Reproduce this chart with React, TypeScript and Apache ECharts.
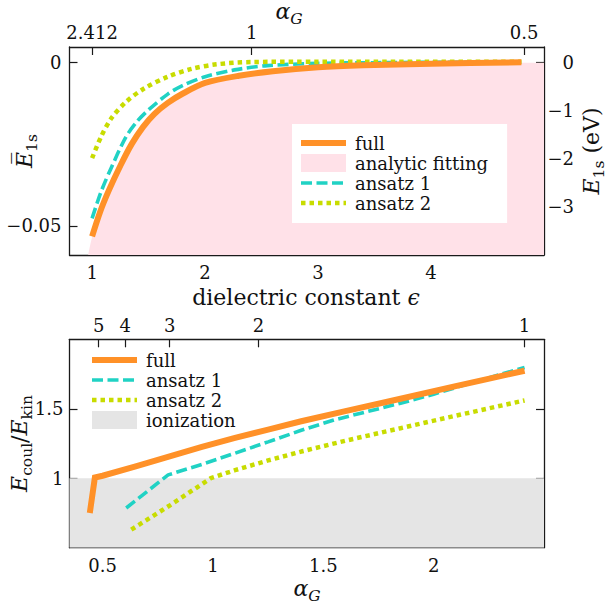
import React, { useEffect, useRef } from 'react';
import * as echarts from 'echarts';

const FONT = '"DejaVu Serif", serif';
const ALPHA0 = 2.412; // alpha_G at epsilon = 1
const EV_PER_UNIT = 68.07; // E_1s (eV) per unit of normalized E_1s

// ---------- top panel: dielectric constant vs normalized E_1s ----------
const epsFull = [1.0, 1.07, 1.15, 1.25, 1.35, 1.45, 1.55, 1.67, 1.8, 2.0, 2.3, 2.6, 3.0, 3.4, 4.0, 4.8];
const eFull = [-0.0532, -0.0458, -0.039, -0.0316, -0.025, -0.0198, -0.0158, -0.0124, -0.0096, -0.0063, -0.0041, -0.0027, -0.0015, -0.0009, -0.0004, 0];
const epsFit = [0.95, 1.0, 1.07, 1.15, 1.25, 1.35, 1.45, 1.55, 1.67, 1.8, 2.0, 2.3, 2.6, 3.0, 3.5, 4.0, 4.5, 5.0];
const eFit = [-0.0615, -0.0534, -0.0458, -0.0389, -0.0315, -0.0249, -0.0197, -0.0157, -0.0123, -0.0095, -0.0062, -0.004, -0.0026, -0.0014, -0.0007, -0.0003, -0.0001, -0.0001];
const epsAnsatz1 = [1.0, 1.08, 1.17, 1.3, 1.4, 1.5, 1.67, 1.8, 2.0, 2.26, 2.55, 3.0, 3.5, 4.0, 4.8];
const eAnsatz1 = [-0.0477, -0.0395, -0.0322, -0.0228, -0.018, -0.0145, -0.0097, -0.0071, -0.0044, -0.0023, -0.001, -0.0003, -0.0001, 0, 0];
const epsAnsatz2 = [1.0, 1.08, 1.17, 1.3, 1.46, 1.67, 1.88, 2.1, 2.4, 3.0, 4.0, 4.8];
const eAnsatz2 = [-0.0293, -0.0227, -0.0171, -0.0121, -0.008, -0.0044, -0.002, -0.0006, 0.0001, 0.0002, 0.0002, 0.0002];

const epsTicks = [1, 2, 3, 4];
const eBarTicks = [-0.05, 0];
const eVTicks = [-3, -2, -1, 0];
const alphaTopTicks = [2.412, 1, 0.5];
const alphaTopLabels = ['2.412', '1', '0.5'];

// ---------- bottom panel: alpha_G vs E_coul/E_kin ----------
const alphaFull = [0.442, 0.465, 0.5, 0.65, 0.8, 0.95, 1.1, 1.25, 1.4, 1.6, 1.85, 2.1, 2.412];
const ratioFull = [0.75, 1.005, 1.018, 1.085, 1.155, 1.225, 1.29, 1.35, 1.41, 1.483, 1.572, 1.663, 1.774];
const alphaAnsatz1 = [0.607, 0.797, 0.95, 1.1, 1.25, 1.4, 1.55, 1.7, 1.85, 2.0, 2.2, 2.412];
const ratioAnsatz1 = [0.786, 1.024, 1.1, 1.18, 1.262, 1.345, 1.42, 1.48, 1.54, 1.605, 1.7, 1.797];
const alphaAnsatz2 = [0.63, 0.8, 0.99, 1.1, 1.25, 1.4, 1.6, 1.85, 2.1, 2.412];
const ratioAnsatz2 = [0.63, 0.8, 1.0, 1.058, 1.128, 1.192, 1.27, 1.36, 1.45, 1.56];
const ionizationX = [0.35, 2.5];
const ionizationY = [1, 1];

const alphaTicks = [0.5, 1, 1.5, 2];
const ratioTicks = [1, 1.5];
const epsTopTicks = [5, 4, 3, 2, 1];

const ORANGE = '#ff9128';
const CYAN = '#20d2c4';
const LIME = '#c8dc00';
const PINK = '#ffe1e8';
const GRAY = '#e5e5e5';
const INK = '#1a1a1a';

const zip = (xs: number[], ys: number[]) => xs.map((x, i) => [x, ys[i]]);
const fmt = (v: number) => {
  const r = Math.round(v * 10000) / 10000;
  const s = String(Math.abs(r));
  return r < 0 ? '\u2212' + s : s;
};
const nearestLabel = (vals: number[], labels: string[]) => (v: number) => {
  let best = 0;
  vals.forEach((t, i) => {
    if (Math.abs(t - v) < Math.abs(vals[best] - v)) best = i;
  });
  return labels[best];
};

const Y_MIN = -0.0589;
const Y_MAX = 0.0047;

function axisBase(extra: any) {
  const base: any = {
    type: 'value',
    axisLine: { show: true, onZero: false, lineStyle: { color: INK, width: 1.3 } },
    axisTick: { show: true, inside: true, length: 8, lineStyle: { color: INK, width: 1.2 } },
    splitLine: { show: false },
    axisLabel: { color: '#111', fontFamily: FONT, fontSize: 18 },
  };
  const out: any = { ...base, ...extra };
  out.axisTick = { ...base.axisTick, ...(extra.axisTick || {}) };
  out.axisLabel = { ...base.axisLabel, ...(extra.axisLabel || {}) };
  return out;
}

const rich = {
  i: { fontFamily: FONT, fontStyle: 'italic', fontSize: 22, lineHeight: 23, verticalAlign: 'top', fill: '#111' },
  r: { fontFamily: FONT, fontSize: 22, lineHeight: 23, verticalAlign: 'top', fill: '#111' },
  s: { fontFamily: FONT, fontSize: 15.5, lineHeight: 16, verticalAlign: 'top', padding: [10, 0, 0, 0], fill: '#111' },
  si: { fontFamily: FONT, fontStyle: 'italic', fontSize: 15.5, lineHeight: 16, verticalAlign: 'top', padding: [10, 0, 0, 0], fill: '#111' },
};

function label(text: string, x: number, y: number, rotation = 0) {
  return {
    type: 'text',
    x,
    y,
    rotation,
    style: { text, rich, align: 'center', verticalAlign: 'middle', fill: '#111', fontFamily: FONT, fontSize: 22 },
  };
}

const hideSym = { opacity: 0 };
const legendText = { fontFamily: FONT, fontSize: 18, lineHeight: 18, color: '#111', padding: [0, 0, 0, 4] };
const lgFull = { name: 'full', itemStyle: hideSym, lineStyle: { width: 6, color: ORANGE, type: 'solid', cap: 'butt' } };
const lgA1 = { name: 'ansatz 1', itemStyle: hideSym, lineStyle: { width: 3.6, color: CYAN, type: [11, 4.5], cap: 'butt' } };
const lgA2 = { name: 'ansatz 2', itemStyle: hideSym, lineStyle: { width: 4.5, color: LIME, type: [4.5, 4], cap: 'butt' } };

const option: any = {
  animation: false,
  backgroundColor: '#fff',
  textStyle: { fontFamily: FONT },
  grid: [
    { left: 69.5, top: 47, width: 474.5, height: 208, containLabel: false, outerBoundsMode: 'none' },
    { left: 69.5, top: 339.3, width: 474.5, height: 208.4, containLabel: false, outerBoundsMode: 'none' },
  ],
  xAxis: [
    axisBase({
      gridIndex: 0, position: 'bottom', min: 0.8, max: 5.0,
      axisTick: { customValues: epsTicks },
      axisLabel: { customValues: epsTicks, margin: 8, formatter: fmt },
    }),
    axisBase({
      gridIndex: 0, position: 'top', min: 0.8, max: 5.0,
      axisTick: { customValues: alphaTopTicks.map((a) => ALPHA0 / a) },
      axisLabel: {
        customValues: alphaTopTicks.map((a) => ALPHA0 / a), margin: 6,
        formatter: nearestLabel(alphaTopTicks.map((a) => ALPHA0 / a), alphaTopLabels),
      },
    }),
    axisBase({
      gridIndex: 1, position: 'bottom', min: 0.35, max: 2.5,
      axisTick: { customValues: alphaTicks },
      axisLabel: { customValues: alphaTicks, margin: 9, formatter: fmt },
    }),
    axisBase({
      gridIndex: 1, position: 'top', min: 0.35, max: 2.5,
      axisTick: { customValues: epsTopTicks.map((e) => ALPHA0 / e) },
      axisLabel: {
        customValues: epsTopTicks.map((e) => ALPHA0 / e), margin: 5,
        formatter: nearestLabel(epsTopTicks.map((e) => ALPHA0 / e), epsTopTicks.map(String)),
      },
    }),
  ],
  yAxis: [
    axisBase({
      gridIndex: 0, position: 'left', min: Y_MIN, max: Y_MAX,
      axisTick: { customValues: eBarTicks },
      axisLabel: { customValues: eBarTicks, margin: 8, formatter: fmt },
    }),
    axisBase({
      gridIndex: 0, position: 'right', min: Y_MIN * EV_PER_UNIT, max: Y_MAX * EV_PER_UNIT,
      axisTick: { customValues: eVTicks },
      axisLabel: { customValues: eVTicks, margin: 30, align: 'right', formatter: fmt },
    }),
    axisBase({
      gridIndex: 1, position: 'left', min: 0.5, max: 2.0,
      axisTick: { customValues: ratioTicks },
      axisLabel: { customValues: ratioTicks, margin: 6, formatter: fmt },
    }),
    axisBase({
      gridIndex: 1, position: 'right', min: 0.5, max: 2.0,
      axisTick: { customValues: ratioTicks },
      axisLabel: { show: false },
    }),
  ],
  legend: [
    {
      orient: 'vertical', left: 292, top: 124, padding: [10, 19, 11, 6],
      backgroundColor: '#fff', itemWidth: 45, itemHeight: 18, itemGap: 2,
      textStyle: legendText,
      data: [
        lgFull,
        { name: 'analytic fitting', icon: 'rect', itemStyle: { color: PINK, opacity: 1 } },
        lgA1,
        lgA2,
      ],
      selectedMode: false,
    },
    {
      orient: 'vertical', left: 89, top: 351, padding: 0,
      itemWidth: 45, itemHeight: 18, itemGap: 2,
      textStyle: legendText,
      data: [
        lgFull,
        lgA1,
        lgA2,
        { name: 'ionization', icon: 'rect', itemStyle: { color: GRAY, opacity: 1 } },
      ],
      selectedMode: false,
    },
  ],
  series: [
    {
      name: 'analytic fitting', type: 'line', xAxisIndex: 0, yAxisIndex: 0,
      data: zip(epsFit, eFit), symbol: 'none', smooth: 0.3, z: 1,
      color: PINK, itemStyle: { color: PINK },
      lineStyle: { width: 0, color: PINK },
      areaStyle: { color: PINK, opacity: 1, origin: 'start' },
    },
    {
      name: 'ansatz 1', type: 'line', xAxisIndex: 0, yAxisIndex: 0,
      data: zip(epsAnsatz1, eAnsatz1), symbol: 'none', smooth: 0.3, z: 3,
      color: CYAN, lineStyle: { color: CYAN, width: 3.6, type: [11, 4.5], cap: 'butt' },
    },
    {
      name: 'ansatz 2', type: 'line', xAxisIndex: 0, yAxisIndex: 0,
      data: zip(epsAnsatz2, eAnsatz2), symbol: 'none', smooth: 0.3, z: 3,
      color: LIME, lineStyle: { color: LIME, width: 4.5, type: [4.5, 4], cap: 'butt' },
    },
    {
      name: 'full', type: 'line', xAxisIndex: 0, yAxisIndex: 0,
      data: zip(epsFull, eFull), symbol: 'none', smooth: 0.3, z: 4,
      color: ORANGE, lineStyle: { color: ORANGE, width: 6, cap: 'butt' },
    },
    {
      name: 'ionization', type: 'line', xAxisIndex: 2, yAxisIndex: 2,
      data: zip(ionizationX, ionizationY), symbol: 'none', z: 1,
      color: GRAY, itemStyle: { color: GRAY },
      lineStyle: { width: 0, color: GRAY },
      areaStyle: { color: GRAY, opacity: 1, origin: 'start' },
    },
    {
      name: 'ansatz 1', type: 'line', xAxisIndex: 2, yAxisIndex: 2,
      data: zip(alphaAnsatz1, ratioAnsatz1), symbol: 'none', z: 3,
      color: CYAN, lineStyle: { color: CYAN, width: 3.6, type: [11, 4.5], cap: 'butt' },
    },
    {
      name: 'ansatz 2', type: 'line', xAxisIndex: 2, yAxisIndex: 2,
      data: zip(alphaAnsatz2, ratioAnsatz2), symbol: 'none', z: 3,
      color: LIME, lineStyle: { color: LIME, width: 4.5, type: [4.5, 4], cap: 'butt' },
    },
    {
      name: 'full', type: 'line', xAxisIndex: 2, yAxisIndex: 2,
      data: zip(alphaFull, ratioFull), symbol: 'none', z: 4,
      color: ORANGE, lineStyle: { color: ORANGE, width: 6, cap: 'butt', join: 'miter' },
    },
  ],
  graphic: [
    label('{i|α}{si|G}', 289, 12),
    label('{r|dielectric constant }{i|ϵ}', 306, 298),
    label('{i|E\u0305}{s|1s}', 25, 151, Math.PI / 2),
    label('{i|E}{s|1s}{r| (eV)}', 592, 151, Math.PI / 2),
    label('{i|E}{s|coul}{r|/}{i|E}{s|kin}', 20, 443.5, Math.PI / 2),
    label('{i|α}{si|G}', 307, 589),
  ],
};

export default function App() {
  const ref = useRef<HTMLDivElement>(null);
  useEffect(() => {
    const chart = echarts.init(ref.current!, null, { renderer: 'svg' });
    chart.setOption(option);
    return () => chart.dispose();
  }, []);
  return (
    <div
      ref={ref}
      style={{ position: 'fixed', left: 0, top: 0, width: 608, height: 606, background: '#fff' }}
    />
  );
}
